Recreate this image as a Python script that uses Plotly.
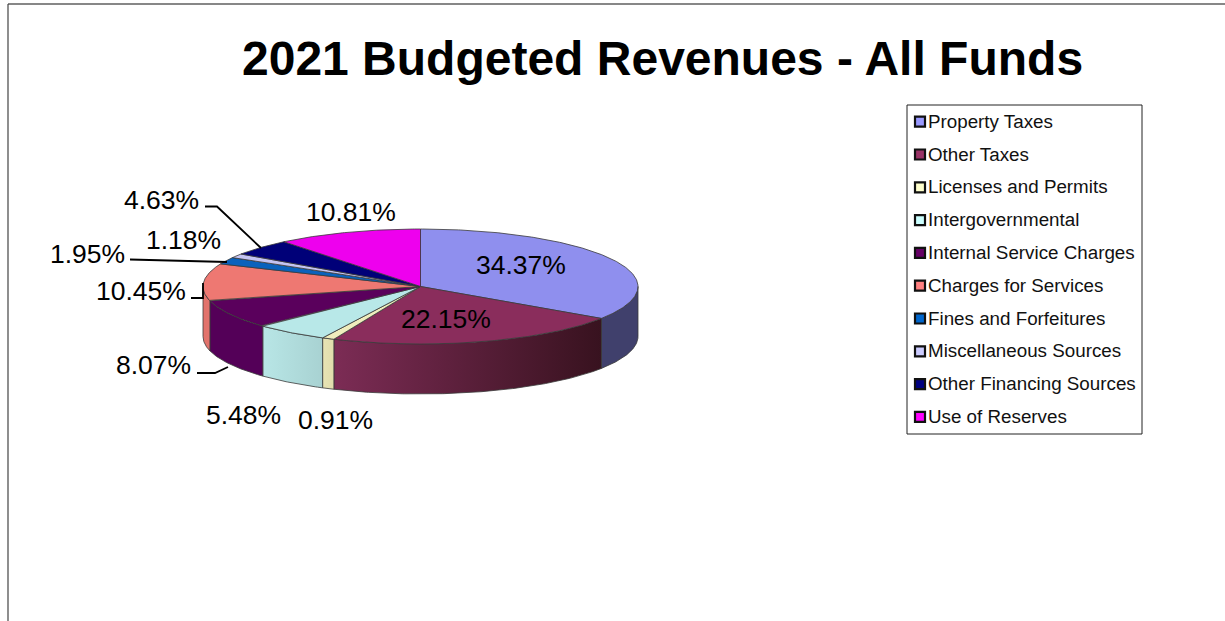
import numpy as np
import plotly.graph_objects as go

# ---- data ----
categories = ["Property Taxes", "Other Taxes", "Licenses and Permits", "Intergovernmental",
              "Internal Service Charges", "Charges for Services", "Fines and Forfeitures",
              "Miscellaneous Sources", "Other Financing Sources", "Use of Reserves"]
values = [34.37, 22.15, 0.91, 5.48, 8.07, 10.45, 1.95, 1.18, 4.63, 10.81]
title_text = "2021 Budgeted Revenues - All Funds"

# ---- styles ----
legend_colors = ["#9999ff", "#993366", "#ffffcc", "#ccffff", "#660066",
                 "#ff8080", "#0066cc", "#ccccff", "#000080", "#ff00ff"]
top_colors = ["#8f8fee", "#8a2d5c", "#efedbd", "#b8e8e8", "#5a005c",
              "#ee7872", "#0a62bc", "#c4c4f2", "#000078", "#ee00ee"]
wall_left = ["#40406c", "#7c2c55", "#e8e4b4", "#b8e6e6", "#540058",
             "#e2736c", "#000000", "#000000", "#000000", "#000000"]
wall_right = ["#40406c", "#38121f", "#e0dcac", "#a8d2d2", "#540058",
              "#e2736c", "#000000", "#000000", "#000000", "#000000"]
label_pos = [(521, 265), (446, 319), (335, 420), (243, 415), (153, 365),
             (141, 291), (87, 254), (183, 240), (161, 200), (351, 212)]
leaders = [[(205, 206.5), (217, 206.5), (261, 248)],
           [(130, 259.5), (227, 262)],
           [(191, 298), (203, 298), (203, 283)],
           [(197, 373), (215, 373), (228, 367)]]
CX, CY, RX, RY, DEPTH = 420.5, 286.5, 217.5, 57.5, 50
FONT = "Liberation Sans, Arial, sans-serif"
EDGE = "#3a3a3a"


def arc(a0, a1, dy=0.0):
    t = np.radians(np.linspace(a0, a1, max(3, int(abs(a1 - a0) * 2))))
    return CX + RX * np.sin(t), CY - RY * np.cos(t) + dy


cum = np.concatenate([[0], np.cumsum(values)]) / sum(values) * 360
fig = go.Figure()

# side walls (only the front half of the rim is visible)
for i in range(len(values)):
    a0, a1 = max(cum[i], 90), min(cum[i + 1], 270)
    if a1 <= a0:
        continue
    xt, yt = arc(a0, a1)
    xb, yb = arc(a1, a0, DEPTH)
    left, right = wall_left[i], wall_right[i]
    fig.add_trace(go.Scatter(
        x=np.r_[xt, xb, xt[:1]], y=np.r_[yt, yb, yt[:1]], mode="lines", fill="toself",
        fillgradient=dict(type="horizontal", colorscale=[[0, left], [1, right]]),
        line=dict(color=EDGE, width=0.8), hoverinfo="skip", showlegend=False))

# top face
for i, name in enumerate(categories):
    xa, ya = arc(cum[i], cum[i + 1])
    fig.add_trace(go.Scatter(
        x=np.r_[CX, xa, CX], y=np.r_[CY, ya, CY], mode="lines", fill="toself",
        fillcolor=top_colors[i], line=dict(color=EDGE, width=0.8),
        name=name, hovertext=f"{name}: {values[i]:.2f}%", hoverinfo="text", showlegend=False))

# legend swatches
LEG_X, LEG_Y0, LEG_DY = 920, 121.7, 32.8
fig.add_trace(go.Scatter(
    x=[LEG_X] * len(categories), y=[LEG_Y0 + LEG_DY * i for i in range(len(categories))],
    mode="markers", marker=dict(symbol="square", size=10, color=legend_colors,
                                line=dict(color="#111111", width=2.2)),
    hoverinfo="skip", showlegend=False))

annotations = [dict(x=662, y=58, text=f"<b>{title_text}</b>", showarrow=False,
                    font=dict(family=FONT, size=48, color="black"))]
for i, name in enumerate(categories):
    annotations.append(dict(x=926, y=LEG_Y0 + LEG_DY * i - 0.5, text=name, showarrow=False, xanchor="left",
                            font=dict(family=FONT, size=18.8, color="#111111")))
for v, (lx, ly) in zip(values, label_pos):
    annotations.append(dict(x=lx, y=ly, text=f"{v:.2f}%", showarrow=False,
                            font=dict(family=FONT, size=26.5, color="black")))

shapes = [
    dict(type="rect", x0=907, x1=1142, y0=105, y1=434, line=dict(color="#222222", width=1)),
    dict(type="line", x0=8, x1=1225, y0=4, y1=4, line=dict(color="#111111", width=1.2)),
    dict(type="line", x0=8, x1=8, y0=4, y1=621, line=dict(color="#444444", width=1.2)),
]
for pts in leaders:
    shapes.append(dict(type="path",
                       path="M " + " L ".join(f"{x},{y}" for x, y in pts),
                       line=dict(color="black", width=1.8)))

fig.update_layout(
    width=1225, height=621, autosize=False,
    margin=dict(l=0, r=0, t=0, b=0), paper_bgcolor="white", plot_bgcolor="white",
    showlegend=False, annotations=annotations, shapes=shapes,
    xaxis=dict(range=[0, 1225], visible=False, fixedrange=True),
    yaxis=dict(range=[621, 0], visible=False, fixedrange=True),
)
fig.write_html("out.html", config={"displayModeBar": False},
               post_script="document.body.style.margin='0';document.documentElement.style.overflow='hidden';")
